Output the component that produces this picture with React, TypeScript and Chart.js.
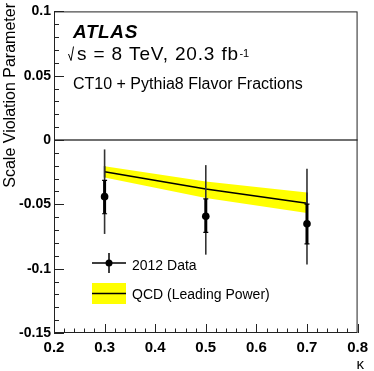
import React, { useEffect, useRef } from "react";
import { Chart, registerables } from "chart.js";

Chart.register(...registerables);

const kappa = [0.3, 0.5, 0.7];
const dataValues = [-0.044, -0.0593, -0.0651];
const statUp = [0.0127, 0.0135, 0.0153];
const statDown = [0.0133, 0.0125, 0.0156];
const totalUp = [0.0367, 0.0398, 0.0428];
const totalDown = [0.029, 0.0298, 0.0316];
const qcdCentral = [-0.0246, -0.0381, -0.0491];
const qcdUpper = [-0.0203, -0.0323, -0.0407];
const qcdLower = [-0.0292, -0.045, -0.0567];

const xTicks = [0.2, 0.3, 0.4, 0.5, 0.6, 0.7, 0.8];
const yTicks = [-0.15, -0.1, -0.05, 0, 0.05, 0.1];

const FONT = "'Liberation Sans', Arial, Helvetica, sans-serif";

const atlasPlugin = {
  id: "atlasDecor",
  afterDatasetsDraw(chart: any) {
    const ctx = chart.ctx;
    const xs = chart.scales.x;
    const ys = chart.scales.y;
    ctx.save();
    // band edges
    ctx.strokeStyle = "#000";
    ctx.lineWidth = 1.5;
    [0, kappa.length - 1].forEach((i) => {
      const px = xs.getPixelForValue(kappa[i]);
      ctx.beginPath();
      ctx.moveTo(px, ys.getPixelForValue(qcdUpper[i]));
      ctx.lineTo(px, ys.getPixelForValue(qcdLower[i]));
      ctx.stroke();
    });
    // error bars
    kappa.forEach((k, i) => {
      const px = xs.getPixelForValue(k);
      const v = dataValues[i];
      ctx.strokeStyle = "#333";
      ctx.lineWidth = 1.6;
      ctx.beginPath();
      ctx.moveTo(px, ys.getPixelForValue(v + totalUp[i]));
      ctx.lineTo(px, ys.getPixelForValue(v - totalDown[i]));
      ctx.stroke();
      ctx.strokeStyle = "#000";
      ctx.lineWidth = 3;
      const t = ys.getPixelForValue(v + statUp[i]);
      const b = ys.getPixelForValue(v - statDown[i]);
      ctx.beginPath();
      ctx.moveTo(px, t);
      ctx.lineTo(px, b);
      ctx.stroke();
      ctx.lineWidth = 1.2;
      ctx.beginPath();
      ctx.moveTo(px - 2.5, t);
      ctx.lineTo(px + 2.5, t);
      ctx.moveTo(px - 2.5, b);
      ctx.lineTo(px + 2.5, b);
      ctx.stroke();
    });
    ctx.restore();
  },
  afterDraw(chart: any) {
    const ctx = chart.ctx;
    const xs = chart.scales.x;
    const ys = chart.scales.y;
    const a = chart.chartArea;
    ctx.save();
    // zero line
    const y0 = ys.getPixelForValue(0);
    ctx.strokeStyle = "#707070";
    ctx.lineWidth = 2;
    ctx.beginPath();
    ctx.moveTo(a.left, y0);
    ctx.lineTo(a.right, y0);
    ctx.stroke();
    // frame
    ctx.strokeStyle = "#222";
    ctx.lineWidth = 1;
    ctx.strokeRect(a.left + 0.5, a.top + 0.5, a.right - a.left - 1, a.bottom - a.top - 1);
    // ticks
    ctx.beginPath();
    for (let i = 0; i <= 25; i++) {
      const v = -0.15 + i * 0.01;
      const py = Math.round(ys.getPixelForValue(v)) + 0.5;
      const major = i % 5 === 0;
      ctx.moveTo(a.left, py);
      ctx.lineTo(a.left + (major ? 10 : 5), py);
    }
    for (let i = 0; i <= 30; i++) {
      const v = 0.2 + i * 0.02;
      const px = Math.round(xs.getPixelForValue(v)) + 0.5;
      const major = i % 5 === 0;
      ctx.moveTo(px, a.bottom);
      ctx.lineTo(px, a.bottom - (major ? 9 : 4.5));
    }
    ctx.stroke();

    // texts
    ctx.fillStyle = "#000";
    ctx.textBaseline = "alphabetic";
    ctx.textAlign = "left";
    ctx.font = `italic bold 19px ${FONT}`;
    ctx.letterSpacing = "0.6px";
    ctx.fillText("ATLAS", 73, 38);
    // sqrt sign
    ctx.lineWidth = 1;
    ctx.strokeStyle = "#000";
    ctx.beginPath();
    ctx.moveTo(68.5, 54);
    ctx.lineTo(71, 60.5);
    ctx.lineTo(73.5, 46.5);
    ctx.stroke();
    ctx.font = `19px ${FONT}`;
    ctx.letterSpacing = "0.85px";
    const s1 = "s = 8 TeV, 20.3 fb";
    ctx.fillText(s1, 77, 60);
    const w1 = ctx.measureText(s1).width;
    ctx.letterSpacing = "0px";
    ctx.font = `11px ${FONT}`;
    ctx.fillText("-1", 77 + w1 + 0.5, 57);
    ctx.font = `16px ${FONT}`;
    ctx.fillText("CT10 + Pythia8 Flavor Fractions", 73, 89);

    // legend
    ctx.strokeStyle = "#000";
    ctx.lineWidth = 1.5;
    ctx.beginPath();
    ctx.moveTo(92, 263);
    ctx.lineTo(126, 263);
    ctx.moveTo(109, 253);
    ctx.lineTo(109, 273);
    ctx.stroke();
    ctx.beginPath();
    ctx.arc(109, 263, 3.5, 0, Math.PI * 2);
    ctx.fill();
    ctx.fillStyle = "#ffff00";
    ctx.fillRect(92, 283, 34, 21);
    ctx.beginPath();
    ctx.moveTo(92, 293.5);
    ctx.lineTo(126, 293.5);
    ctx.stroke();
    ctx.fillStyle = "#000";
    ctx.font = `14px ${FONT}`;
    ctx.fillText("2012 Data", 132, 270);
    ctx.fillText("QCD (Leading Power)", 132, 299);

    // axis titles
    ctx.font = `16px ${FONT}`;
    ctx.save();
    ctx.translate(15, 3);
    ctx.rotate(-Math.PI / 2);
    ctx.textAlign = "right";
    ctx.fillText("Scale Violation Parameter", 0, 0);
    ctx.restore();
    ctx.font = `15px ${FONT}`;
    ctx.textAlign = "right";
    ctx.fillText("\u03ba", 364, 369);
    ctx.restore();
  },
};

export default function App() {
  const ref = useRef<HTMLCanvasElement | null>(null);
  useEffect(() => {
    if (!ref.current) return;
    const chart = new Chart(ref.current, {
      type: "scatter",
      data: {
        datasets: [
          {
            label: "upper",
            data: kappa.map((k, i) => ({ x: k, y: qcdUpper[i] })),
            showLine: true,
            borderWidth: 0,
            borderColor: "rgba(0,0,0,0)",
            pointRadius: 0,
            backgroundColor: "#ffff00",
            fill: "+1",
          },
          {
            label: "lower",
            data: kappa.map((k, i) => ({ x: k, y: qcdLower[i] })),
            showLine: true,
            borderWidth: 0,
            borderColor: "rgba(0,0,0,0)",
            pointRadius: 0,
            fill: false,
          },
          {
            label: "QCD",
            data: kappa.map((k, i) => ({ x: k, y: qcdCentral[i] })),
            showLine: true,
            borderWidth: 1.6,
            borderColor: "#000",
            pointRadius: 0,
            fill: false,
          },
          {
            label: "2012 Data",
            data: kappa.map((k, i) => ({ x: k, y: dataValues[i] })),
            showLine: false,
            pointRadius: 3.8,
            pointBackgroundColor: "#000",
            pointBorderColor: "#000",
            borderWidth: 0,
          },
        ],
      },
      options: {
        animation: false,
        responsive: false,
        events: [],
        layout: { padding: { left: 0, top: 6, right: 10, bottom: 0 } },
        plugins: {
          legend: { display: false },
          tooltip: { enabled: false },
          filler: { drawTime: "beforeDatasetsDraw" },
        },
        scales: {
          x: {
            type: "linear",
            min: 0.2,
            max: 0.8,
            afterFit: (s: any) => {
              s.height = 38;
            },
            afterBuildTicks: (s: any) => {
              s.ticks = xTicks.map((v) => ({ value: v }));
            },
            grid: { display: false, drawTicks: false },
            border: { display: false },
            ticks: {
              padding: 6,
              color: "#000",
              font: { family: FONT, size: 15, weight: "bold" },
              callback: (v: any) => Number(v).toFixed(1),
              maxRotation: 0,
            },
          },
          y: {
            type: "linear",
            min: -0.15,
            max: 0.1,
            afterFit: (s: any) => {
              s.width = 54;
            },
            afterBuildTicks: (s: any) => {
              s.ticks = yTicks.map((v) => ({ value: v }));
            },
            grid: { display: false, drawTicks: false },
            border: { display: false },
            ticks: {
              padding: 3,
              color: "#000",
              font: { family: FONT, size: 14, weight: "bold" },
              callback: (v: any) => String(Number(Number(v).toFixed(2))),
            },
          },
        },
      },
      plugins: [atlasPlugin],
    });
    return () => chart.destroy();
  }, []);
  return (
    <div style={{ position: "absolute", left: 0, top: 0, width: 374, height: 371, background: "#fff" }}>
      <canvas ref={ref} width={374} height={371} style={{ display: "block" }} />
    </div>
  );
}
